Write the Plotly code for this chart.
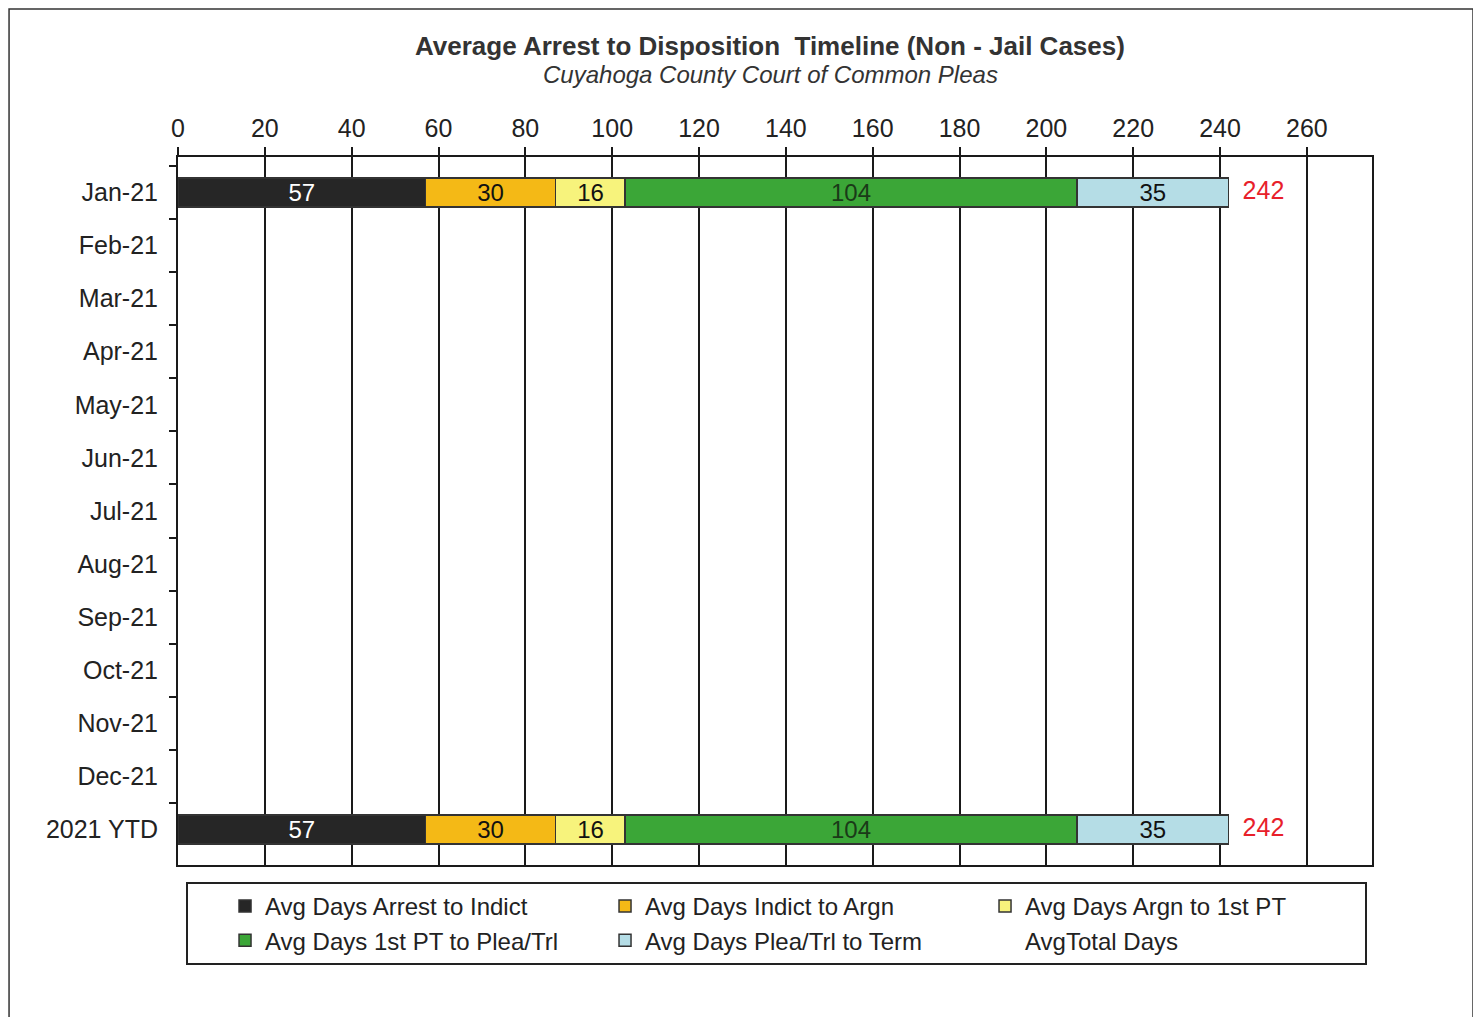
import plotly.graph_objects as go

categories = ["Jan-21", "Feb-21", "Mar-21", "Apr-21", "May-21", "Jun-21", "Jul-21",
              "Aug-21", "Sep-21", "Oct-21", "Nov-21", "Dec-21", "2021 YTD"]
arrest_to_indict = [57] + [None] * 11 + [57]
indict_to_argn = [30] + [None] * 11 + [30]
argn_to_1st_pt = [16] + [None] * 11 + [16]
pt_to_plea = [104] + [None] * 11 + [104]
plea_to_term = [35] + [None] * 11 + [35]
total_days = [242] + [None] * 11 + [242]
x_ticks = list(range(0, 261, 20))

series = [
    ("Avg Days Arrest to Indict", arrest_to_indict, "#262626", "white"),
    ("Avg Days Indict to Argn", indict_to_argn, "#f4b916", "#111111"),
    ("Avg Days Argn to 1st PT", argn_to_1st_pt, "#f7f37c", "#111111"),
    ("Avg Days 1st PT to Plea/Trl", pt_to_plea, "#3ba637", "#1a3a18"),
    ("Avg Days Plea/Trl to Term", plea_to_term, "#b5dde6", "#111111"),
]

FONT = "Liberation Sans, Arial, sans-serif"
fig = go.Figure()
for name, vals, color, tcolor in series:
    fig.add_trace(go.Bar(
        name=name, y=categories, x=vals, orientation="h",
        marker=dict(color=color, line=dict(color="#333333", width=1.5)),
        text=[str(v) if v is not None else "" for v in vals],
        textposition="inside", insidetextanchor="middle", textangle=0,
        constraintext="none",
        textfont=dict(size=24, color=tcolor, family=FONT),
        width=0.55,
    ))

fig.add_trace(go.Scatter(
    y=categories, x=total_days, mode="text",
    text=[("  " + str(v)) if v is not None else "" for v in total_days],
    textposition="middle right",
    textfont=dict(size=25, color="#e8202a", family=FONT),
    showlegend=False, hoverinfo="skip", cliponaxis=False,
))
fig.add_trace(go.Bar(
    name="AvgTotal Days", y=[categories[0]], x=[None], orientation="h",
    marker=dict(color="rgba(0,0,0,0)", line=dict(width=0)),
    showlegend=True,
))

fig.update_layout(
    barmode="stack",
    width=1473, height=1009,
    paper_bgcolor="white", plot_bgcolor="white",
    margin=dict(l=170, r=109, t=149, b=152),
    font=dict(family=FONT, color="#222222"),
    xaxis=dict(
        side="top", range=[0, 275], tickvals=x_ticks,
        tickfont=dict(size=25, color="#222222"),
        showgrid=True, gridcolor="#1a1a1a", gridwidth=1.5,
        showline=True, linecolor="#1a1a1a", linewidth=2, mirror=True,
        ticks="outside", ticklen=8, tickcolor="#1a1a1a", tickwidth=1.5,
        zeroline=False, fixedrange=True,
    ),
    yaxis=dict(
        type="category", categoryorder="array", categoryarray=categories,
        autorange="reversed",
        tickfont=dict(size=25, color="#222222"),
        showline=True, linecolor="#1a1a1a", linewidth=2, mirror=True,
        ticks="outside", tickson="boundaries", ticklen=7, tickcolor="#1a1a1a",
        tickwidth=1.5, showgrid=False, ticklabelstandoff=13,
    ),
    legend=dict(
        orientation="h", x=0.007, xanchor="left", y=-0.024, yanchor="top",
        entrywidth=335, entrywidthmode="pixels",
        bordercolor="#222222", borderwidth=2, bgcolor="white",
        font=dict(size=24, color="#222222", family=FONT),
        title=dict(text="\u00a0\u00a0\u00a0\u00a0", side="left", font=dict(size=24)),
        traceorder="normal", itemclick=False,
    ),
    showlegend=True,
    annotations=[
        dict(text="<b>Average Arrest to Disposition  Timeline (Non - Jail Cases)</b>",
             x=0.496, y=1.157, xref="paper", yref="paper", showarrow=False,
             xanchor="center", yanchor="middle",
             font=dict(size=26, color="#333333", family=FONT)),
        dict(text="<i>Cuyahoga County Court of Common Pleas</i>",
             x=0.496, y=1.117, xref="paper", yref="paper", showarrow=False,
             xanchor="center", yanchor="middle",
             font=dict(size=24, color="#333333", family=FONT)),
    ],
    shapes=[
        dict(type="rect", xref="paper", yref="paper",
             x0=-0.1415, x1=1.0846, y0=-0.3, y1=1.209,
             line=dict(color="#333333", width=1.5), fillcolor="rgba(0,0,0,0)",
             layer="below"),
    ],
)

fig.write_html("out.html")
